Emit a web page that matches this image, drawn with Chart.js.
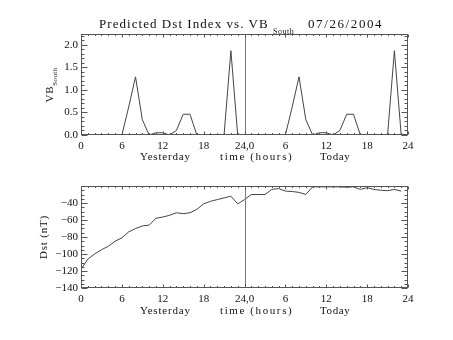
<!DOCTYPE html>
<html><head><meta charset="utf-8">
<script src="https://cdn.jsdelivr.net/npm/chart.js@4.4.1/dist/chart.umd.min.js"></script>
<style>
html,body{margin:0;padding:0;background:#fff;}
#wrap{position:relative;width:453px;height:340px;overflow:hidden;font-family:"Liberation Serif",serif;color:#111;}
canvas{position:absolute;left:0;}
.t{position:absolute;white-space:nowrap;line-height:1;}
.rot{position:absolute;white-space:nowrap;line-height:1;transform:translate(-50%,-50%) rotate(-90deg);}
</style></head><body>
<div id="wrap">
<canvas id="c1" width="453" height="170" style="top:0;width:453px;height:170px"></canvas>
<canvas id="c2" width="453" height="170" style="top:170px;width:453px;height:170px"></canvas>
<div class="t" style="left:99px;top:17px;font-size:13px;letter-spacing:1.05px">Predicted Dst Index vs. VB</div>
<div class="t" style="left:273px;top:28px;font-size:8px;letter-spacing:0.5px">South</div>
<div class="t" style="left:308px;top:17px;font-size:13px;letter-spacing:1.6px">07/26/2004</div>

<div class="t" style="left:140px;top:151px;font-size:11px;letter-spacing:0.8px">Yesterday</div>
<div class="t" style="left:220px;top:151px;font-size:11px;letter-spacing:1.6px">time (hours)</div>
<div class="t" style="left:320px;top:151px;font-size:11px;letter-spacing:0.6px">Today</div>
<div class="t" style="left:140px;top:305px;font-size:11px;letter-spacing:0.8px">Yesterday</div>
<div class="t" style="left:220px;top:305px;font-size:11px;letter-spacing:1.6px">time (hours)</div>
<div class="t" style="left:320px;top:305px;font-size:11px;letter-spacing:0.6px">Today</div>

<div class="rot" style="left:49px;top:85px;font-size:11px;letter-spacing:0.8px">VB<span style="font-size:7px;position:relative;top:4px;letter-spacing:0.4px">South</span></div>
<div class="rot" style="left:43px;top:237px;font-size:11px;letter-spacing:0.8px">Dst (nT)</div>
</div>
<script>
// ---- data ----
const hourOfDay = [0,1,2,3,4,5,6,7,8,9,10,11,12,13,14,15,16,17,18,19,20,21,22,23];
const vbYesterday = [0,0,0,0,0,0,0,0.62,1.29,0.34,0,0.05,0.05,0,0.1,0.46,0.46,0,0,0,0,0,1.87,0];
const vbToday     = [0,0,0,0,0,0,0,0.62,1.29,0.34,0,0.05,0.05,0,0.1,0.46,0.46,0,0,0,0,0,1.87,0];
const dstYesterday = [-118,-106,-100,-95,-91,-85,-81,-74,-70,-67,-66,-58,-56.5,-54.5,-51.5,-52.5,-51.5,-47.5,-41,-38,-36,-34,-32,-41];
const dstToday     = [-36,-30,-30,-30,-24,-23,-26,-26.5,-27.5,-30,-21,-21,-21,-21,-21,-21.5,-21,-24,-22,-24,-25,-25.5,-24,-26];
const xTickValues = [0,6,12,18,24,30,36,42,48];
const xTickLabels = ['0','6','12','18','24,0','6','12','18','24'];
const vbTickValues = [0,0.5,1,1.5,2];
const vbTickLabels = ['0.0','0.5','1.0','1.5','2.0'];
const dstTickValues = [-140,-120,-100,-80,-60,-40];
const dstTickLabels = ['\u2212140','\u2212120','\u2212100','\u221280','\u221260','\u221240'];

function toPoints(yest, today){
  return hourOfDay.map((h,i)=>({x:h, y:yest[i]})).concat(hourOfDay.map((h,i)=>({x:24+h, y:today[i]})));
}

const deco = {
  id:'deco',
  afterDatasetsDraw(chart, args, o){
    const ctx = chart.ctx, a = chart.chartArea, xs = chart.scales.x, ys = chart.scales.y;
    ctx.save();
    const L=Math.round(a.left)+0.5, R=Math.round(a.right)-0.5, T=Math.round(a.top)+0.5, B=Math.round(a.bottom)-0.5;
    ctx.lineWidth=1;
    ctx.strokeStyle='#777';
    const sx=Math.round(xs.getPixelForValue(o.sep))+0.5;
    ctx.beginPath(); ctx.moveTo(sx,T); ctx.lineTo(sx,B); ctx.stroke();
    ctx.strokeStyle='#555';
    ctx.strokeRect(L,T,R-L,B-T);
    ctx.beginPath();
    const nx = Math.round((xs.max-xs.min)/o.xMinor);
    for(let i=0;i<=nx;i++){
      const v = xs.min + i*o.xMinor;
      const maj = Math.abs(v/o.xMajor - Math.round(v/o.xMajor))<1e-6;
      const len = maj?o.xLen:o.xLen/2;
      const px = Math.round(xs.getPixelForValue(v))+0.5;
      ctx.moveTo(px,B); ctx.lineTo(px,B-len);
      ctx.moveTo(px,T); ctx.lineTo(px,T+len);
    }
    const ny = Math.round((ys.max-ys.min)/o.yMinor);
    for(let i=0;i<=ny;i++){
      const v = ys.min + i*o.yMinor;
      const maj = Math.abs(v/o.yMajor - Math.round(v/o.yMajor))<1e-6;
      const len = maj?o.yLen:o.yLen/2;
      const py = Math.round(ys.getPixelForValue(v))+0.5;
      ctx.moveTo(L,py); ctx.lineTo(L+len,py);
      ctx.moveTo(R,py); ctx.lineTo(R-len,py);
    }
    ctx.stroke();
    ctx.restore();
  }
};

const font = {family:'"Liberation Serif", serif', size:11};

function makeChart(id, pts, yMin, yMax, yVals, yLabels, padTop, xAxisH, decoOpts){
  return new Chart(document.getElementById(id), {
    type:'line',
    data:{datasets:[{data:pts, borderColor:'#444', borderWidth:1, pointRadius:0, tension:0, fill:false}]},
    options:{
      responsive:false, animation:false, devicePixelRatio:1,
      layout:{padding:{left:0,right:45,top:padTop,bottom:0}},
      plugins:{legend:{display:false}, tooltip:{enabled:false}, deco:decoOpts},
      scales:{
        x:{type:'linear', min:0, max:48,
          grid:{display:false, drawTicks:false}, border:{display:false},
          afterFit(s){ s.height = xAxisH; },
          afterBuildTicks(s){ s.ticks = xTickValues.map(v=>({value:v})); },
          ticks:{padding:5, color:'#111', font, maxRotation:0, autoSkip:false,
            callback:(v,i)=>xTickLabels[i]}
        },
        y:{type:'linear', min:yMin, max:yMax,
          grid:{display:false, drawTicks:false}, border:{display:false},
          afterFit(s){ s.width = 81; },
          afterBuildTicks(s){ s.ticks = yVals.map(v=>({value:v})); },
          ticks:{padding:3, color:'#111', font, autoSkip:false,
            callback:(v,i)=>yLabels[i]}
        }
      }
    },
    plugins:[deco]
  });
}

makeChart('c1', toPoints(vbYesterday, vbToday), 0, 2.24, vbTickValues, vbTickLabels, 34, 35,
  {sep:24, xMajor:6, xMinor:1, xLen:3, yMajor:0.5, yMinor:0.1, yLen:6});
makeChart('c2', toPoints(dstYesterday, dstToday), -140, -20, dstTickValues, dstTickLabels, 16, 52,
  {sep:24, xMajor:6, xMinor:1, xLen:3, yMajor:20, yMinor:5, yLen:6});
</script>
</body></html>
